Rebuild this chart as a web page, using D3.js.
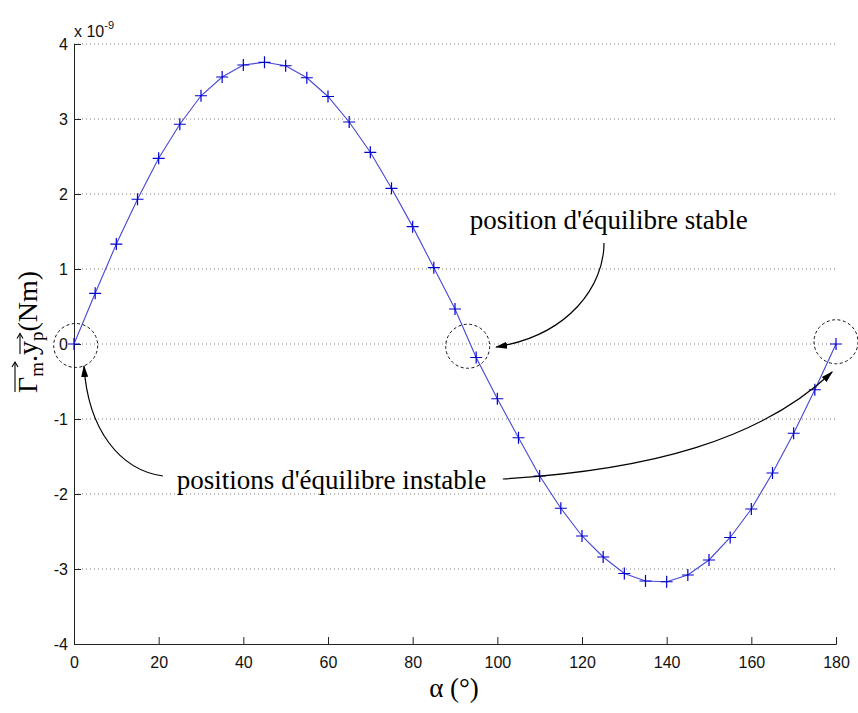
<!DOCTYPE html>
<html>
<head>
<meta charset="utf-8">
<script src="https://cdn.jsdelivr.net/npm/d3@7"></script>
<style>
  html, body { margin: 0; padding: 0; background: #fff; }
  svg { display: block; }
</style>
</head>
<body>
<svg id="chart" width="858" height="713"></svg>
<script>
// ---- data ----
const alphaDeg = [0,5,10,15,20,25,30,35,40,45,50,55,60,65,70,75,80,85,90,
                  95,100,105,110,115,120,125,130,135,140,145,150,155,160,165,170,175,180];
const torque = [0,0.676,1.333,1.93,2.476,2.93,3.31,3.56,3.72,3.756,3.71,3.55,3.30,2.96,2.556,2.076,1.565,1.018,0.467,
                -0.18,-0.73,-1.25,-1.76,-2.19,-2.56,-2.84,-3.06,-3.16,-3.17,-3.08,-2.88,-2.58,-2.20,-1.72,-1.19,-0.61,0];
const xTicks = [0,20,40,60,80,100,120,140,160,180];
const yTicks = [-4,-3,-2,-1,0,1,2,3,4];
const xLabel = "α (°)";
const yExponent = "-9";
const stableText = "position d'équilibre stable";
const instableText = "positions d'équilibre instable";
// equilibrium markers (data units)
const circleCenters = [[0.4,-0.02],[93,-0.03],[180,0.03]];
// annotation text anchors (data units)
const stableAnchor = [93.5, 1.533];
const instableAnchor = [24.3, -1.933];
// annotation arrows as cubic bezier control points (data units)
const arrowCurves = [
  [[125.2,1.347],[125.2,0.787],[117.2,0.12],[99.7,-0.04]],
  [[21.0,-1.76],[10.87,-1.68],[3.31,-1.147],[2.36,-0.293]],
  [[101.3,-1.8],[136.1,-1.68],[162.1,-1.28],[179.1,-0.373]]
];

// ---- layout ----
const svg = d3.select("#chart");
const x = d3.scaleLinear().domain([0,180]).range([74,836]);
const y = d3.scaleLinear().domain([-4,4]).range([644,44]);
const sansFont = "'Liberation Sans', Arial, sans-serif";
const serifFont = "'Liberation Serif', 'Times New Roman', serif";
const fmt = d => String(d);   // plain hyphen-minus like the original

// grid (horizontal dotted)
svg.append("g").selectAll("line").data(yTicks.filter(d => d > -4)).join("line")
  .attr("x1", x(0)).attr("x2", x(180))
  .attr("y1", d => y(d)).attr("y2", d => y(d))
  .attr("stroke", "#7a7a7a").attr("stroke-width", 1)
  .attr("stroke-dasharray", "1,3");

// axes
const xAxis = svg.append("g").attr("transform", `translate(0,${y(-4)})`)
  .call(d3.axisBottom(x).tickValues(xTicks).tickSize(-7).tickPadding(10).tickFormat(fmt));
const yAxis = svg.append("g").attr("transform", `translate(${x(0)},0)`)
  .call(d3.axisLeft(y).tickValues(yTicks).tickSize(-7).tickPadding(6).tickFormat(fmt));
[xAxis, yAxis].forEach(a => {
  a.select(".domain").attr("stroke", "#222").attr("stroke-width", 1);
  a.selectAll(".tick line").attr("stroke", "#222");
  a.selectAll(".tick text").attr("font-family", sansFont).attr("font-size", 16).attr("fill", "#111");
});
xAxis.selectAll(".tick text").attr("dy", "0.9em");
yAxis.selectAll(".tick text").attr("dx", "0").attr("dy", "0.35em");

// exponent
const exp = svg.append("text").attr("x", x(0)).attr("y", 37)
  .attr("font-family", sansFont).attr("font-size", 16).attr("fill", "#111");
exp.append("tspan").text("x 10");
exp.append("tspan").attr("dy", -8).attr("font-size", 11).text(yExponent);

// data line + markers
const line = d3.line().x((d,i) => x(alphaDeg[i])).y(d => y(d));
svg.append("path").datum(torque).attr("d", line)
  .attr("fill", "none").attr("stroke", "#4646d6").attr("stroke-width", 1.1);
const ms = 6;
svg.append("g").selectAll("path").data(torque).join("path")
  .attr("d", (d,i) => {
    const cx = x(alphaDeg[i]), cy = y(d);
    return `M${cx-ms},${cy}H${cx+ms}M${cx},${cy-ms}V${cy+ms}`;
  })
  .attr("stroke", "#0000d0").attr("stroke-width", 1.2).attr("fill", "none");

// dashed circles
svg.append("g").selectAll("circle").data(circleCenters).join("circle")
  .attr("cx", d => x(d[0])).attr("cy", d => y(d[1])).attr("r", 22)
  .attr("fill", "none").attr("stroke", "#111").attr("stroke-width", 1)
  .attr("stroke-dasharray", "3,2.5");

// arrows
svg.append("defs").append("marker")
  .attr("id", "ah").attr("viewBox", "0 -5 12 10").attr("refX", 11).attr("refY", 0)
  .attr("markerUnits", "userSpaceOnUse").attr("markerWidth", 12).attr("markerHeight", 10)
  .attr("orient", "auto")
  .append("path").attr("d", "M0,-3.5L12,0L0,3.5Z").attr("fill", "#000");
svg.append("g").selectAll("path").data(arrowCurves).join("path")
  .attr("d", c => {
    const p = c.map(q => [x(q[0]), y(q[1])]);
    return `M${p[0]}C${p[1]} ${p[2]} ${p[3]}`;
  })
  .attr("fill", "none").attr("stroke", "#000").attr("stroke-width", 1.2)
  .attr("marker-end", "url(#ah)");

// annotation texts
svg.append("text").attr("x", x(stableAnchor[0])).attr("y", y(stableAnchor[1]))
  .attr("font-family", serifFont).attr("font-size", 27).attr("fill", "#000").text(stableText);
svg.append("text").attr("x", x(instableAnchor[0])).attr("y", y(instableAnchor[1]))
  .attr("font-family", serifFont).attr("font-size", 27).attr("fill", "#000").text(instableText);

// x label
svg.append("text").attr("x", 454).attr("y", 697).attr("text-anchor", "middle")
  .attr("font-family", serifFont).attr("font-size", 27).attr("fill", "#000").text(xLabel);

// y label (rotated, with vector arrows)
const yl = svg.append("g").attr("transform", "translate(37,393) rotate(-90)");
const big = 28, small = 19;
let cx = 0;
function piece(txt, size, dy) {
  const t = yl.append("text").attr("x", cx).attr("y", dy)
    .attr("font-family", serifFont).attr("font-size", size).attr("fill", "#000").text(txt);
  const w = t.node().getComputedTextLength();
  const start = cx;
  cx += w;
  return [start, cx];
}
const g1 = piece("Γ", big, 0);
const g2 = piece("m", small, 6);
piece(".", big, 0);
const g3 = piece("y", big, 0);
const g4 = piece("p", small, 6);
piece("(Nm)", big, 0);
function vecArrow(x0, x1, yy) {
  yl.append("path").attr("d", `M${x0},${yy}H${x1}`).attr("stroke", "#000").attr("stroke-width", 1.1);
  yl.append("path").attr("d", `M${x1-5},${yy-3}L${x1},${yy}L${x1-5},${yy+3}`)
    .attr("stroke", "#000").attr("stroke-width", 1.1).attr("fill", "none");
}
vecArrow(g1[0] + 1, g2[1], -22);
vecArrow(g3[0] + 1, g4[1] - 2, -17);
</script>
</body>
</html>
